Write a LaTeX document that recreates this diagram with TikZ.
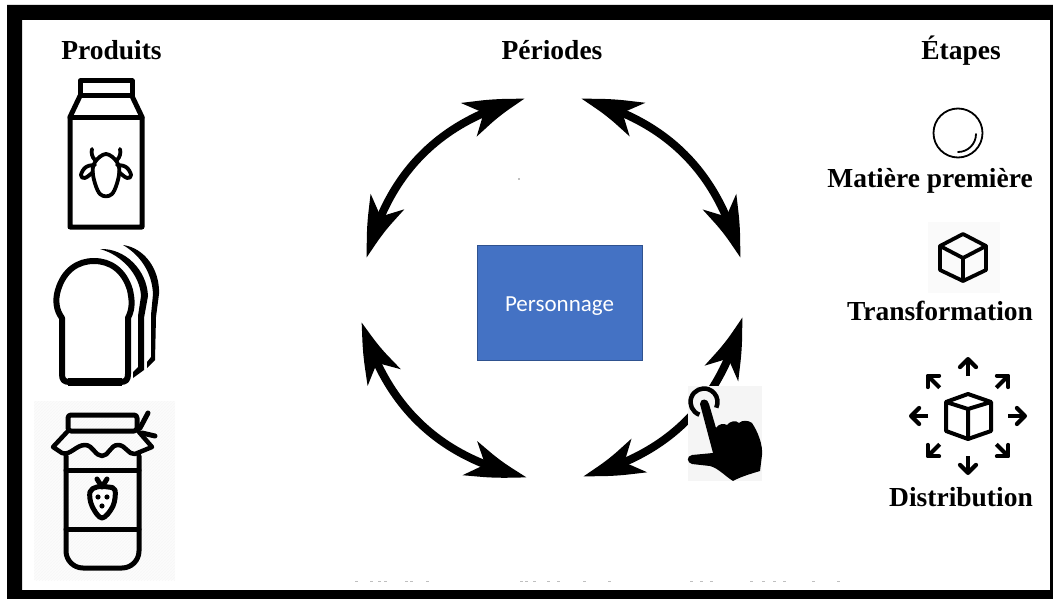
\documentclass[tikz,border=0pt]{standalone}
\usepackage{fontspec}
\setmainfont{Liberation Serif}
\newfontfamily\boxfont{Carlito}
\usepackage{tikz}
\usetikzlibrary{arrows.meta,bending,calc,patterns,positioning}
\definecolor{boxblue}{HTML}{4472C4}
\definecolor{boxedge}{HTML}{2F528F}

\begin{document}
\begin{tikzpicture}[x=1pt,y=-1pt]
  \tikzset{titre/.style = {font=\bfseries\fontsize{27.5}{30}\selectfont, anchor=base, inner sep=0pt},
           cycle/.style = {line width=8pt, {Stealth[length=62pt,width=36pt,inset=17pt,bend]}-{Stealth[length=62pt,width=36pt,inset=17pt,bend]}},
           icone/.style = {line width=5pt, line join=round, line cap=round},
           fin/.style = {line width=3.8pt, line join=round, line cap=round},
           fleche/.style = {line width=4.2pt, -{Straight Barb[length=8pt,width=16pt,round]}}}
  \useasboundingbox (0,0) rectangle (1053,599);
  %%% CADRE %%%
  \fill[black, even odd rule] (7,5) rectangle (1053,599) (22,20) rectangle (1050,590);
  %%% TITRES %%%
  \node[titre] (produits) at (111.5,60) {Produits};
  \node[titre] (periodes) at (552,60) {Périodes};
  \node[titre] (etapes) at (961,60) {Étapes};
  \node[titre] (matiere) at (930,188) {Matière première};
  \node[titre] (transfo) at (940,320) {Transformation};
  \node[titre] (distrib) at (961,506) {Distribution};
  %%% CENTRE %%%
  \node[draw=boxedge, fill=boxblue, line width=1pt, minimum width=165pt, minimum height=115pt, text=white, font=\boxfont\fontsize{23}{26}\selectfont] (perso) at (559.5,302.5) {\raisebox{-8.5pt}[0pt][0pt]{Personnage}};
  \coordinate (hg) at (525,99);
  \coordinate (hd) at (581,99);
  \coordinate (dh) at (740,258);
  \coordinate (db) at (742,317);
  \coordinate (bd) at (583,476);
  \coordinate (bg) at (527,477);
  \coordinate (gb) at (362,322);
  \coordinate (gh) at (367,258);
  \draw[cycle] (gh) to[bend left=31] (hg);
  \draw[cycle] (hd) to[bend left=31] (dh);
  \draw[cycle] (db) to[bend left=31] (bd);
  \draw[cycle] (bg) to[bend left=31] (gb);
  \fill[gray] (519,179) circle (0.8pt);
  %%% LA MAIN %%%
  \fill[black!4] (688,386) rectangle (762,481);
  \draw[line width=4.5pt] (699.4,414.7) arc[start angle=250, end angle=-25, radius=13.5pt];
  \fill (700,404) .. controls (700,398) and (708,398) .. (709,404) -- (716,428)
    .. controls (718,424) and (724,423) .. (727,425) .. controls (730,421) and (736,420) .. (739,423)
    .. controls (742,420) and (748,420) .. (752,423) .. controls (758,432) and (763,445) .. (762,455)
    -- (760,471) .. controls (750,474) and (740,477) .. (733,481) .. controls (725,476) and (718,468) .. (710,466)
    -- (692,464) .. controls (687,463) and (686,456) .. (692,455) -- (713,453) -- cycle;
  %%% PRODUITS : LE LAIT %%%
  \draw[icone] (80,81) rectangle (132,96);
  \draw[icone] (80,96) -- (70,117) -- (70,227) -- (142,227) -- (142,117) -- (132,96);
  \draw[icone] (70,118) -- (142,118);
  % la vache
  \draw[fin] plot[smooth cycle, tension=.6] coordinates {(95,162) (106,154) (117,162) (119,175) (112,194) (100,194) (93,175)};
  \draw[fin] (95,160) .. controls (92,157) and (91,153) .. (92,149);
  \draw[fin] (117,160) .. controls (120,157) and (121,153) .. (120,149);
  \draw[fin] plot[smooth, tension=.7] coordinates {(95,165) (86,167) (81,175) (85,178) (93,172)};
  \draw[fin] plot[smooth, tension=.7] coordinates {(117,165) (126,167) (131,175) (127,178) (119,172)};
  %%% PRODUITS : LE PAIN %%%
  \draw[line width=6pt, line join=round] (62,318) -- (62,374)
    .. controls (62,380) and (64,382) .. (70,382) -- (120,382) .. controls (126,382) and (128,380) .. (128,374)
    -- (128,318) .. controls (133,308) and (132,300) .. (130,290) .. controls (124,270) and (110,261) .. (94,261)
    .. controls (78,261) and (64,270) .. (58,290) .. controls (55,300) and (56,310) .. (62,318) -- cycle;
  \draw[line width=8pt] (68,381.5) -- (122,381.5);
  \fill (100,249) .. controls (125,248) and (147,270) .. (148,296) -- (144,318) -- (144,370) -- (133,378)
    -- (133,372) -- (138,367) -- (138,316) -- (141,296) .. controls (140,275) and (122,255) .. (100,249) -- cycle;
  \fill (123,245) .. controls (145,248) and (160,270) .. (159,294) -- (156,317) -- (155,360) -- (147,368)
    -- (147,362) -- (151,357) -- (151,315) -- (153,294) .. controls (152,272) and (140,255) .. (123,245) -- cycle;
  %%% PRODUITS : LA CONFITURE %%%
  \fill[black!1] (34,401) rectangle (175,580);
  \fill[pattern=north east lines, pattern color=black!3] (34,401) rectangle (175,580);
  \draw[icone, rounded corners=3pt] (68,415) rectangle (137,431);
  \draw[icone, line width=4.5pt] (67,432) -- (53,447) -- (62,453) .. controls (70,456) and (76,445) .. (85,445)
    .. controls (93,445) and (95,456) .. (102,456) .. controls (109,456) and (110,445) .. (118,445)
    .. controls (126,445) and (128,455) .. (135,454) -- (152,447) -- (139,432);
  \draw[icone] (148,413) -- (140,428);
  \draw[icone] (155,436) -- (142,433);
  \draw[icone, rounded corners=17pt] (66,456) -- (66,568) -- (139,568) -- (139,456);
  \draw[icone] (66,470) -- (139,470);
  \draw[icone] (66,529) -- (139,529);
  % la fraise
  \draw[icone, fill=white] plot[smooth cycle, tension=.6] coordinates {(90,492) (97,487) (108,487) (115,490) (113,506) (102,518) (92,506)};
  \draw[icone] (97,479) -- (102,487) -- (107,479);
  \foreach \px/\py in {98/497,107/497,102/506}
    \fill (\px,\py) circle (2.6pt);
  %%% ETAPES %%%
  \draw[line width=1.8pt] (958,133) circle (24.5pt);
  \draw[line width=1.8pt, line cap=round] (976,134) arc[start angle=0, end angle=-90, radius=18pt];
  \fill[black!2] (928,222) rectangle (1000,293);
  \draw[fin] (963,234) -- (986,246) -- (986,270) -- (963,281) -- (940,270) -- (940,246) -- cycle;
  \draw[fin] (940,246) -- (963,258) -- (986,246) (963,258) -- (963,281);
  \draw[line width=4pt, line join=round] (968,394) -- (991,402) -- (991,431) -- (968,439) -- (946,431) -- (946,402) -- cycle;
  \draw[line width=4pt, line join=round] (946,402) -- (968,409) -- (991,402) (968,409) -- (968,439);
  \coordinate (centre) at (968,416);
  \foreach \ang in {0,45,...,315}
    \draw[fleche] ($(centre)+(\ang:40)$) -- ($(centre)+(\ang:59)$);
  %%% RESTES DU BAS %%%
  \foreach \px in {355,370,378,384,405,410,426,520,525,533,547,557,583,608,690,700,710,750,762,773,783,812,837}
    \fill[black!25] (\px,580.5) rectangle +(3,1);
\end{tikzpicture}
\end{document}
